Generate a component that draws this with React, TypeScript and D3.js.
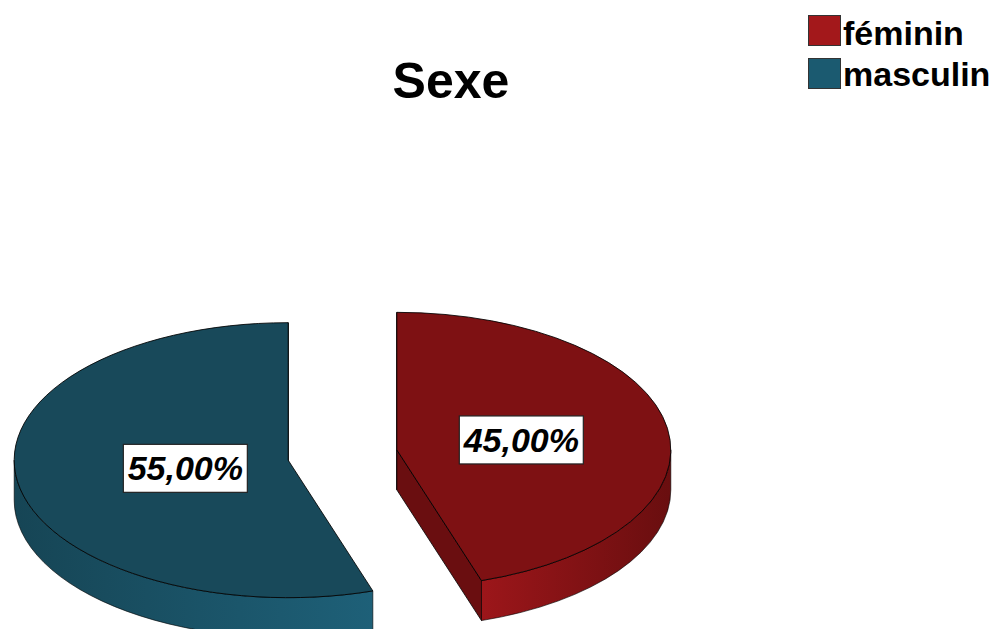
import React from "react";
import * as d3 from "d3";

const categories = ["féminin", "masculin"];
const values = [45, 55];
const labels = ["45,00%", "55,00%"];
const topColors = ["#7e1113", "#18495a"];
const legendColors = ["#a3181b", "#1b5a70"];
const sideLight = ["#9c161a", "#1e6078"];
const sideDark = ["#690e0f", "#164555"];
const cutColors = ["#6a0e10", "#143f4e"];
const labelFrac = [0.46, 0.38];

const W = 1002;
const H = 629;
const baseCx = 342.5;
const baseCy = 455;
const rx = 274;
const ry = 137.5;
const depth = 40;
const explode = 55;
const explodeTilt = 0.6;

export default function App() {
  const pie = d3.pie<number>().sort(null).startAngle(0).endAngle(2 * Math.PI);
  const arcs = pie(values);

  const slices = arcs.map((a, i) => {
    const mid = (a.startAngle + a.endAngle) / 2;
    const cx = baseCx + explode * Math.sin(mid);
    const cy = baseCy - explode * Math.cos(mid) * explodeTilt;
    const pt = (t: number, dy = 0): [number, number] => [cx + rx * Math.sin(t), cy - ry * Math.cos(t) + dy];
    const a0 = a.startAngle;
    const a1 = a.endAngle;
    const large = a1 - a0 > Math.PI ? 1 : 0;
    const p0 = pt(a0);
    const p1 = pt(a1);
    const top = `M${cx},${cy} L${p0[0]},${p0[1]} A${rx},${ry} 0 ${large} 1 ${p1[0]},${p1[1]} Z`;

    // outer side visible in front half [pi/2, 3pi/2]
    const b0 = Math.max(a0, Math.PI / 2);
    const b1 = Math.min(a1, (3 * Math.PI) / 2);
    let side: string | null = null;
    if (b1 > b0) {
      const q0 = pt(b0);
      const q1 = pt(b1);
      const q1d = pt(b1, depth);
      const q0d = pt(b0, depth);
      const lg = b1 - b0 > Math.PI ? 1 : 0;
      side = `M${q0[0]},${q0[1]} A${rx},${ry} 0 ${lg} 1 ${q1[0]},${q1[1]} L${q1d[0]},${q1d[1]} A${rx},${ry} 0 ${lg} 0 ${q0d[0]},${q0d[1]} Z`;
    }
    const cuts: string[] = [];
    const faces: [number, number][] = [
      [a0, a0 - Math.PI / 2],
      [a1, a1 + Math.PI / 2],
    ];
    faces.forEach(([ang, normal]) => {
      if (Math.cos(normal) <= 1e-6) {
        const r = pt(ang);
        const rd = pt(ang, depth);
        cuts.push(`M${cx},${cy} L${r[0]},${r[1]} L${rd[0]},${rd[1]} L${cx},${cy + depth} Z`);
      }
    });
    const lf = labelFrac[i];
    const lx = cx + rx * lf * Math.sin(mid);
    const ly = cy - ry * lf * Math.cos(mid);
    return { top, side, cuts, lx, ly, i };
  });

  const font = "'Liberation Sans', Arial, Helvetica, sans-serif";

  return (
    <svg width={W} height={H} style={{ position: "absolute", left: 0, top: 0, background: "#fff" }}>
      <defs>
        {slices.map((s) => (
          <linearGradient key={s.i} id={`side${s.i}`} x1="0" y1="0" x2="1" y2="0">
            <stop offset="0%" stopColor={s.i === 0 ? sideLight[0] : sideDark[1]} />
            <stop offset="100%" stopColor={s.i === 0 ? sideDark[0] : sideLight[1]} />
          </linearGradient>
        ))}
      </defs>
      <rect x={0} y={0} width={W} height={H} fill="#fff" />
      <text x={451} y={98} textAnchor="middle" fontFamily={font} fontWeight="bold" fontSize={50} fill="#000">
        Sexe
      </text>
      {categories.map((c, i) => (
        <g key={c}>
          <rect x={808.5} y={15.5 + i * 43} width={32} height={30} fill={legendColors[i]} stroke="#333" strokeWidth={1} />
          <text x={843} y={45 + i * 41} fontFamily={font} fontWeight="bold" fontSize={34} fill="#000">
            {c}
          </text>
        </g>
      ))}
      {slices.map((s) => (
        <g key={`sides${s.i}`}>
          {s.cuts.map((d, k) => (
            <path key={k} d={d} fill={cutColors[s.i]} stroke="#000" strokeWidth={1} strokeOpacity={0.8} strokeLinejoin="round" />
          ))}
          {s.side && <path d={s.side} fill={`url(#side${s.i})`} stroke="#000" strokeWidth={1} strokeOpacity={0.6} />}
        </g>
      ))}
      {slices.map((s) => (
        <path key={`top${s.i}`} d={s.top} fill={topColors[s.i]} stroke="#000" strokeWidth={1} strokeOpacity={0.85} strokeLinejoin="round" />
      ))}
      {slices.map((s) => (
        <g key={`lab${s.i}`} transform={`translate(${s.lx},${s.ly})`}>
          <rect x={-62} y={-24} width={124} height={48} fill="#fff" stroke="#222" strokeWidth={1.2} />
          <text x={0} y={12} textAnchor="middle" fontFamily={font} fontWeight="bold" fontStyle="italic" fontSize={34} fill="#000">
            {labels[s.i]}
          </text>
        </g>
      ))}
    </svg>
  );
}
